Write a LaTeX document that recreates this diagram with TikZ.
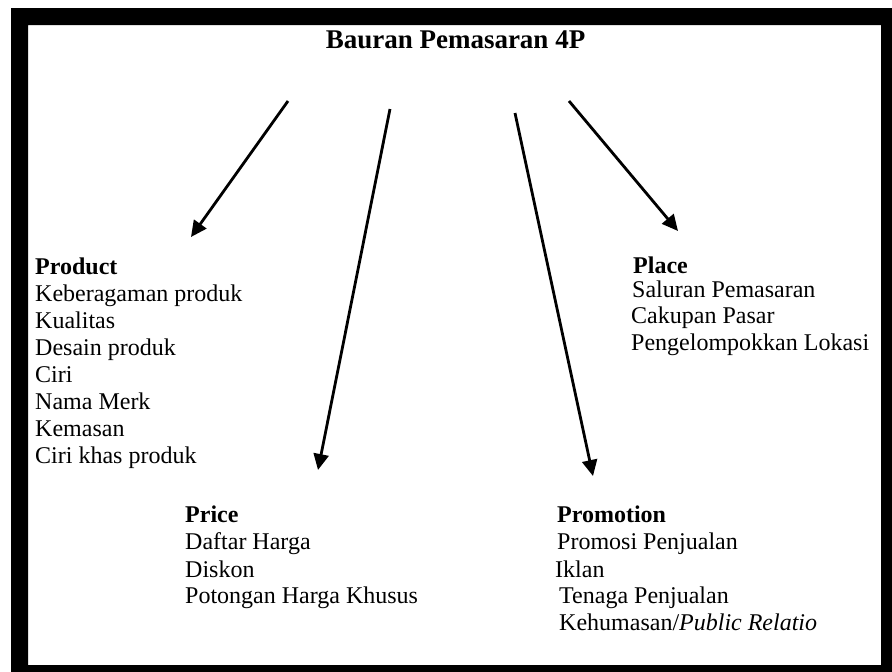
\documentclass[tikz,border=0pt]{standalone}
\usepackage{fontspec}
\setmainfont{Liberation Serif}
\usetikzlibrary{arrows.meta}
\tikzset{
  txt/.style={anchor=base west, inner sep=0pt, font=\fontsize{24}{27}\selectfont},
  hd/.style={txt, font=\fontsize{24}{27}\selectfont\bfseries},
  arr/.style={line width=2.8pt, -{Triangle[length=16pt,width=15pt]}}
}
\begin{document}
\begin{tikzpicture}[x=1pt,y=-1pt]
\useasboundingbox (0,0) rectangle (892,672);
% frame
\fill[black,even odd rule] (11,8) rectangle (892,672) (28,25) rectangle (881,665);
% title
\node[anchor=base, inner sep=0pt, font=\fontsize{27}{30}\selectfont\bfseries] (title) at (455.5,48) {Bauran Pemasaran 4P};
% Product
\node[hd]  (prod)  at (35,274) {Product};
\node[txt] (prod1) at (35,301) {Keberagaman produk};
\node[txt] (prod2) at (35,328) {Kualitas};
\node[txt] (prod3) at (35,355) {Desain produk};
\node[txt] (prod4) at (35,382) {Ciri};
\node[txt] (prod5) at (35,409) {Nama Merk};
\node[txt] (prod6) at (35,436) {Kemasan};
\node[txt] (prod7) at (35,463) {Ciri khas produk};
% Place
\node[hd]  (place)  at (633,273) {Place};
\node[txt] (place1) at (632,297) {Saluran Pemasaran};
\node[txt] (place2) at (631,323) {Cakupan Pasar};
\node[txt] (place3) at (631,350) {Pengelompokkan Lokasi};
% Price
\node[hd]  (price)  at (185,522) {Price};
\node[txt] (price1) at (185,549) {Daftar Harga};
\node[txt] (price2) at (185,577) {Diskon};
\node[txt] (price3) at (185,603) {Potongan Harga Khusus};
% Promotion
\node[hd]  (promo)  at (557,522) {Promotion};
\node[txt] (promo1) at (557,549) {Promosi Penjualan};
\node[txt] (promo2) at (555,577) {Iklan};
\node[txt] (promo3) at (559,603) {Tenaga Penjualan};
\node[txt] (promo4) at (559,630) {Kehumasan/\textit{Public Relatio}};
% arrows
\coordinate (a1s) at (288,101);
\coordinate (a1e) at (191,237);
\coordinate (a2s) at (390,109);
\coordinate (a2e) at (318,470);
\coordinate (a3s) at (515,113);
\coordinate (a3e) at (593,476);
\coordinate (a4s) at (569,101);
\coordinate (a4e) at (678,231);
\draw[arr] (a1s) -- (a1e);
\draw[arr] (a2s) -- (a2e);
\draw[arr] (a3s) -- (a3e);
\draw[arr] (a4s) -- (a4e);
\end{tikzpicture}
\end{document}
